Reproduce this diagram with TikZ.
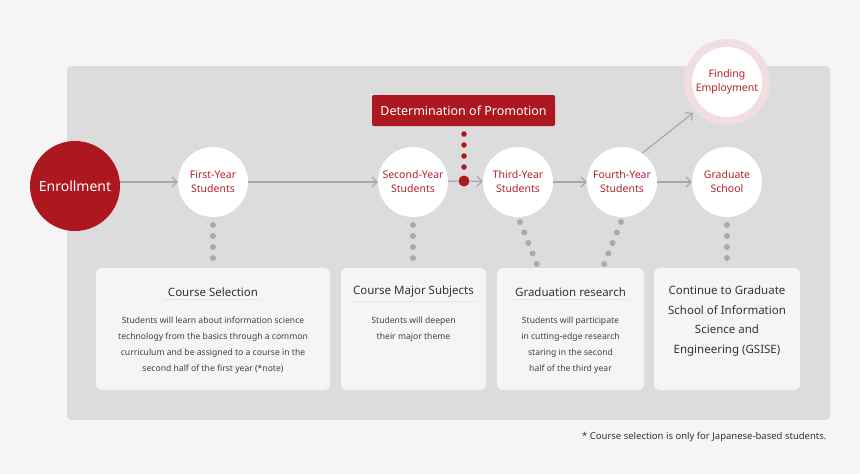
\documentclass[tikz,border=0pt]{standalone}
\usepackage{fontspec}
\setmainfont{Noto Sans}
\definecolor{dred}{HTML}{AD1820}
\definecolor{tred}{HTML}{B0222B}
\definecolor{panel}{HTML}{DCDCDC}
\definecolor{bg}{HTML}{F5F5F5}
\definecolor{card}{HTML}{F5F5F5}
\definecolor{ring}{HTML}{F2DDE0}
\definecolor{dotg}{HTML}{AAAAAA}
\definecolor{arr}{HTML}{A8A8A8}
\begin{document}
\begin{tikzpicture}[x=1pt,y=-1pt,
 stu/.style={circle,fill=white,minimum size=70pt,inner sep=0pt,align=center,text=tred,font=\fontsize{10.5}{14}\selectfont},
 card/.style={fill=card,rounded corners=6pt},
 ttl/.style={font=\fontsize{11.5}{13}\selectfont\bfseries,text=black!80},
 body/.style={font=\fontsize{8.6}{16}\selectfont,text=black!75,align=center},
 ar/.style={draw=arr,line width=1.2pt,-{Straight Barb[length=5pt,width=10pt]}},
 gd/.style={circle,fill=dotg,inner sep=0pt,minimum size=6pt},
 rd/.style={circle,fill=dred,inner sep=0pt,minimum size=6pt}]
\usetikzlibrary{arrows.meta}
\fill[bg] (0,0) rectangle (860,474);
\useasboundingbox (0,0) rectangle (860,474);
\fill[panel,rounded corners=4pt] (67,66) rectangle (830,420);
% nodes
\node[circle,fill=dred,minimum size=90pt,inner sep=0pt,text=white,font=\fontsize{14}{16}\selectfont] (enr) at (75,186) {Enrollment};
\node[stu] (y1) at (213,182) {First-Year\\Students};
\node[stu] (y2) at (413,182) {Second-Year\\Students};
\node[stu] (y3) at (518,182) {Third-Year\\Students};
\node[stu] (y4) at (622,182) {Fourth-Year\\Students};
\node[stu] (gs) at (727,182) {Graduate\\School};
\node[circle,fill=ring,minimum size=86pt,inner sep=0pt] (ring) at (727,82) {};
\node[stu] (emp) at (727,82) {Finding\\Employment};
\node[fill=dred,rounded corners=2pt,minimum width=183pt,minimum height=31pt,text=white,font=\fontsize{12.5}{14}\selectfont] (prom) at (463.5,110.5) {Determination of Promotion};
\node[circle,fill=dred,minimum size=11pt,inner sep=0pt] (bd) at (464,181) {};
\foreach \yy in {134,145,156,167} \node[rd,minimum size=5.5pt] at (464,\yy) {};
% arrows
\coordinate (es) at (120,182);
\draw[ar] (es) -- (y1);
\draw[ar] (y1) -- (y2);
\draw[draw=arr,line width=1.2pt] (y2) -- (bd);
\draw[ar] (bd) -- (y3);
\draw[ar] (y3) -- (y4);
\draw[ar] (y4) -- (gs);
\coordinate (ea) at (693,113);
\draw[ar] (y4.55) -- (ea);
% gray dots
\foreach \xx in {213,413,727} \foreach \yy in {225,236,247,258} \node[gd] at (\xx,\yy) {};
\foreach \i in {0,...,4} {\node[gd] at (520+4.2*\i,222+10.5*\i) {}; \node[gd] at (621-4.2*\i,222+10.5*\i) {};}
% cards
\fill[card,rounded corners=6pt] (96,268) rectangle (330,390);
\fill[card,rounded corners=6pt] (341,268) rectangle (486,390);
\fill[card,rounded corners=6pt] (497,268) rectangle (644,390);
\fill[card,rounded corners=6pt] (654,268) rectangle (800,390);
\node[ttl] (t1) at (213,292) {Course Selection};
\draw[panel!70,line width=1pt] (t1.south west) -- (t1.south east);
\node[body] (b1) at (213,345) {Students will learn about information science\\technology from the basics through a common\\curriculum and be assigned to a course in the\\second half of the first year (*note)};
\node[ttl] (t2) at (413.5,292) {Course Major Subjects};
\draw[panel!70,line width=1pt] (t2.south west) -- (t2.south east);
\node[body] (b2) at (413.5,329) {Students will deepen\\their major theme};
\node[ttl] (t3) at (570.5,292) {Graduation research};
\draw[panel!70,line width=1pt] (t3.south west) -- (t3.south east);
\node[body] (b3) at (570.5,345) {Students will participate\\in cutting-edge research\\staring in the second\\half of the third year};
\node[ttl,align=center,font=\fontsize{11.5}{19.5}\selectfont\bfseries] (t4) at (727,321) {Continue to Graduate\\School of Information\\Science and\\Engineering (GSISE)};
\node[anchor=east,font=\fontsize{9.5}{11}\selectfont,text=black!80] (fn) at (830,437) {* Course selection is only for Japanese-based students.};
\end{tikzpicture}
\end{document}
